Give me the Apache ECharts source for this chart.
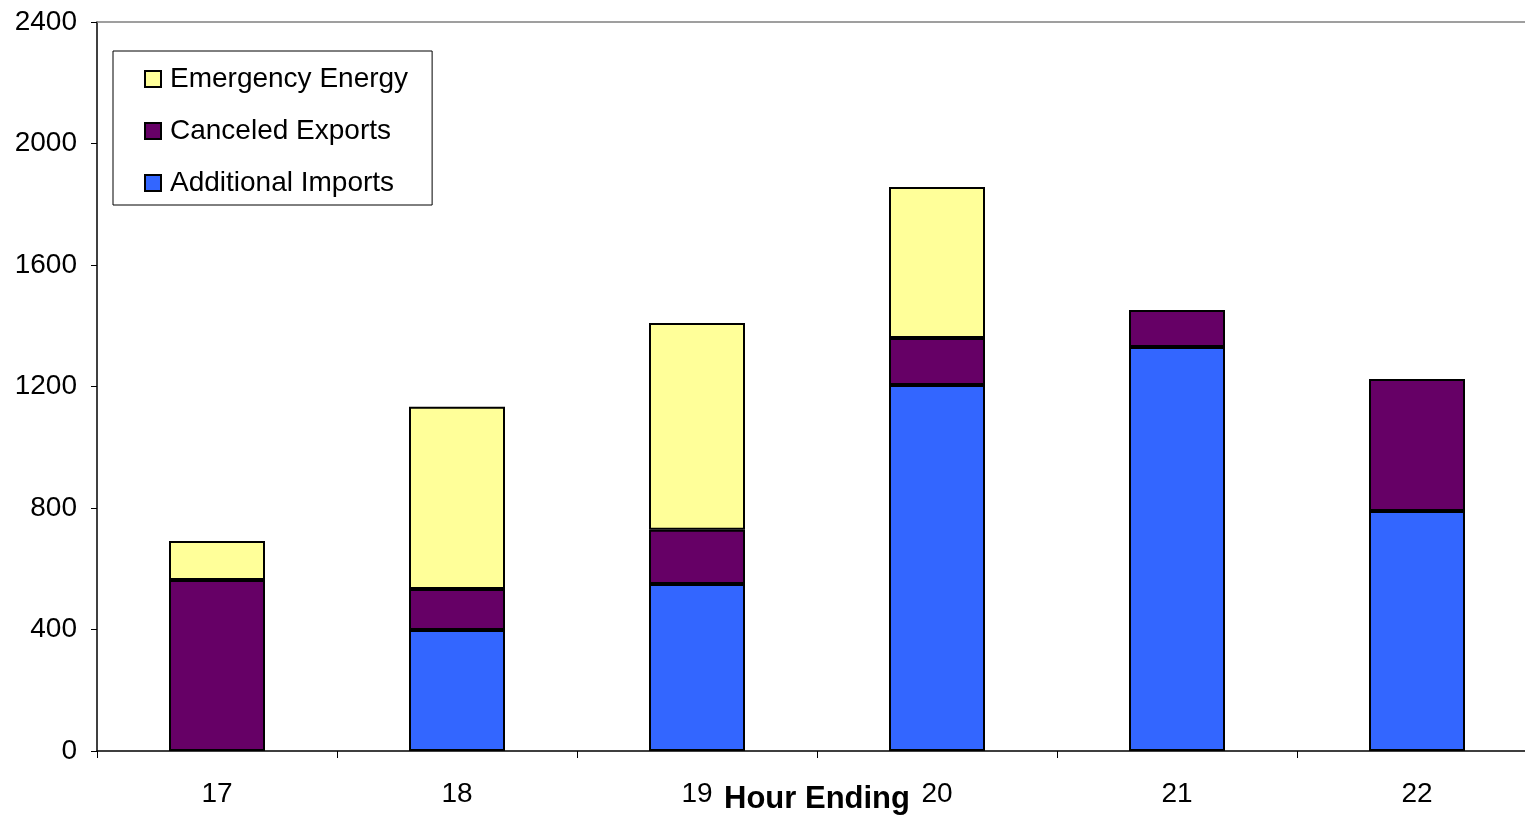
<!DOCTYPE html>
<html><head><meta charset="utf-8">
<script src="https://cdn.jsdelivr.net/npm/echarts@6/dist/echarts.min.js"></script>
<style>html,body{margin:0;padding:0;background:#fff}#c{width:1525px;height:815px}</style>
</head><body><div id="c"></div>
<script>
const categories = ['17', '18', '19', '20', '21', '22'];
const additionalImports = [0, 398, 550, 1205, 1330, 790];
const canceledExports = [563, 135, 178, 155, 122, 435];
const emergencyEnergy = [128, 600, 681, 497, 0, 0];
const yTicks = [0, 400, 800, 1200, 1600, 2000, 2400];

const font = 'Arial, "Liberation Sans", sans-serif';
const chart = echarts.init(document.getElementById('c'), null, {renderer: 'canvas'});
const barStyle = (color) => ({color: color, borderColor: '#000', borderWidth: 2});
const mk = (name, data, color) => ({
  name: name, type: 'bar', stack: 'total', data: data.map(v => v === 0 ? null : v),
  barWidth: '40%', itemStyle: barStyle(color), emphasis: {disabled: true}, animation: false
});
chart.setOption({
  animation: false,
  textStyle: {fontFamily: font},
  grid: {left: 97, right: -12, top: 22, bottom: 64, containLabel: false, outerBoundsMode: 'none'},
  legend: {
    orient: 'vertical', left: 113, top: 51,
    data: ['Emergency Energy', 'Canceled Exports', 'Additional Imports'],
    icon: 'rect',
    itemWidth: 16, itemHeight: 16, itemGap: 24,
    padding: [14, 24, 8, 31],
    borderColor: '#000', borderWidth: 1, backgroundColor: '#fff',
    textStyle: {fontSize: 28, color: '#000', fontFamily: font, padding: [0, 0, 0, 4]},
    itemStyle: {borderColor: '#000', borderWidth: 2},
    selectedMode: false
  },
  xAxis: [{
    type: 'category', data: categories,
    axisLine: {lineStyle: {color: '#000', width: 1.5}},
    axisTick: {show: true, length: 7, lineStyle: {color: '#000'}, alignWithLabel: false},
    axisLabel: {fontSize: 28, color: '#000', margin: 29, fontFamily: font},
    name: 'Hour Ending', nameLocation: 'middle', nameGap: 33, nameMoveOverlap: false,
    nameTextStyle: {fontSize: 31, fontWeight: 'bold', color: '#000', fontFamily: font}
  }, {
    type: 'category', data: categories, position: 'top',
    axisLine: {show: true, lineStyle: {color: '#808080', width: 1.5}},
    axisTick: {show: false}, axisLabel: {show: false}
  }],
  yAxis: {
    type: 'value', min: yTicks[0], max: yTicks[yTicks.length - 1], interval: 400,
    axisLine: {show: true, lineStyle: {color: '#000', width: 1.5}},
    axisTick: {show: true, length: 6, lineStyle: {color: '#000'}},
    axisLabel: {fontSize: 28, color: '#000', margin: 20, fontFamily: font, formatter: v => String(v)},
    splitLine: {show: false}
  },
  series: [
    mk('Additional Imports', additionalImports, '#3366FF'),
    mk('Canceled Exports', canceledExports, '#660066'),
    mk('Emergency Energy', emergencyEnergy, '#FFFF99')
  ]
});
</script></body></html>
